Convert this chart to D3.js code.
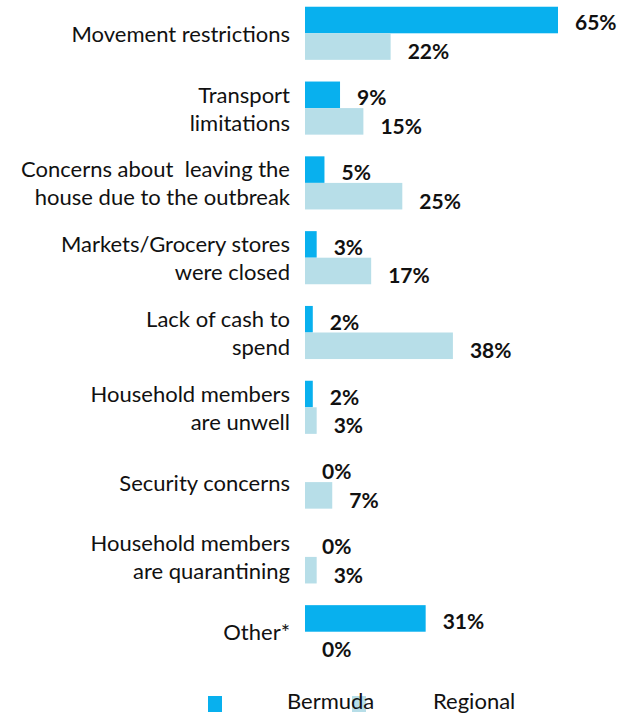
<!DOCTYPE html>
<html>
<head>
<meta charset="utf-8">
<script src="https://cdn.jsdelivr.net/npm/d3@7"></script>
<style>
  html, body { margin: 0; padding: 0; background: #fff; }
  svg { display: block; }
</style>
</head>
<body>
<svg id="chart" width="627" height="715"></svg>
<script>
// Reasons households could not access markets (share of respondents)
const categories = [
  "Movement restrictions",
  "Transport limitations",
  "Concerns about leaving the house due to the outbreak",
  "Markets/Grocery stores were closed",
  "Lack of cash to spend",
  "Household members are unwell",
  "Security concerns",
  "Household members are quarantining",
  "Other*"
];
// Axis label line breaks
const categoryLines = [
  ["Movement restrictions"],
  ["Transport", "limitations"],
  ["Concerns about  leaving the", "house due to the outbreak"],
  ["Markets/Grocery stores", "were closed"],
  ["Lack of cash to", "spend"],
  ["Household members", "are unwell"],
  ["Security concerns"],
  ["Household members", "are quarantining"],
  ["Other*"]
];
const seriesNames = ["Bermuda", "Regional"];
const bermuda = [65, 9, 5, 3, 2, 2, 0, 0, 31];
const regional = [22, 15, 25, 17, 38, 3, 7, 3, 0];
const colors = ["#08B0EE", "#B7DEE8"];

const svg = d3.select("#chart");
const labelFont = "Lato, 'Open Sans', sans-serif";

const x = d3.scaleLinear().domain([0, 65]).range([305, 558]);
const y = d3.scaleBand().domain(categories).range([0, 665])
  .paddingInner(0.29).paddingOuter(0.09);
const ySub = d3.scaleBand().domain(seriesNames).range([0, y.bandwidth()]);

const rows = categories.map((c, i) => ({
  cat: c,
  lines: categoryLines[i],
  values: [
    { s: seriesNames[0], v: bermuda[i], color: colors[0] },
    { s: seriesNames[1], v: regional[i], color: colors[1] }
  ]
}));

const g = svg.selectAll("g.row").data(rows).join("g")
  .attr("class", "row")
  .attr("transform", d => `translate(0,${y(d.cat)})`);

g.selectAll("rect").data(d => d.values).join("rect")
  .attr("x", x(0))
  .attr("y", d => ySub(d.s))
  .attr("width", d => x(d.v) - x(0))
  .attr("height", ySub.bandwidth())
  .attr("fill", d => d.color);

g.selectAll("text.val").data(d => d.values).join("text")
  .attr("class", "val")
  .attr("x", d => x(d.v) + 17)
  .attr("y", d => ySub(d.s) + ySub.bandwidth() / 2 + (d.s === "Bermuda" ? 2 : 4))
  .attr("dominant-baseline", "central")
  .attr("font-family", labelFont)
  .attr("font-weight", "bold")
  .attr("font-size", 21)
  .attr("fill", "#111")
  .text(d => d.v + "%");

// Category labels, right-aligned beside the bars
const lineH = 28;
g.append("text")
  .attr("class", "cat")
  .attr("text-anchor", "end")
  .attr("font-family", labelFont)
  .attr("font-size", 22)
  .attr("fill", "#111")
  .each(function(d) {
    const t = d3.select(this);
    const n = d.lines.length;
    d.lines.forEach((ln, k) => {
      t.append("tspan")
        .attr("x", 290)
        .attr("y", y.bandwidth() / 2 + (k - (n - 1) / 2) * lineH)
        .attr("dominant-baseline", "central")
        .attr("xml:space", "preserve")
        .text(ln);
    });
  });

// Legend
const legend = svg.append("g").attr("class", "legend");
const legendItems = [
  { name: seriesNames[0], color: colors[0], sx: 208, tx: 287 },
  { name: seriesNames[1], color: colors[1], sx: 352, tx: 433 }
];
legend.selectAll("rect").data(legendItems).join("rect")
  .attr("x", d => d.sx).attr("y", 696)
  .attr("width", 14).attr("height", 16)
  .attr("fill", d => d.color);
legend.selectAll("text").data(legendItems).join("text")
  .attr("x", d => d.tx).attr("y", 709)
  .attr("font-family", labelFont)
  .attr("font-size", 22)
  .attr("fill", "#111")
  .text(d => d.name);
</script>
</body>
</html>
